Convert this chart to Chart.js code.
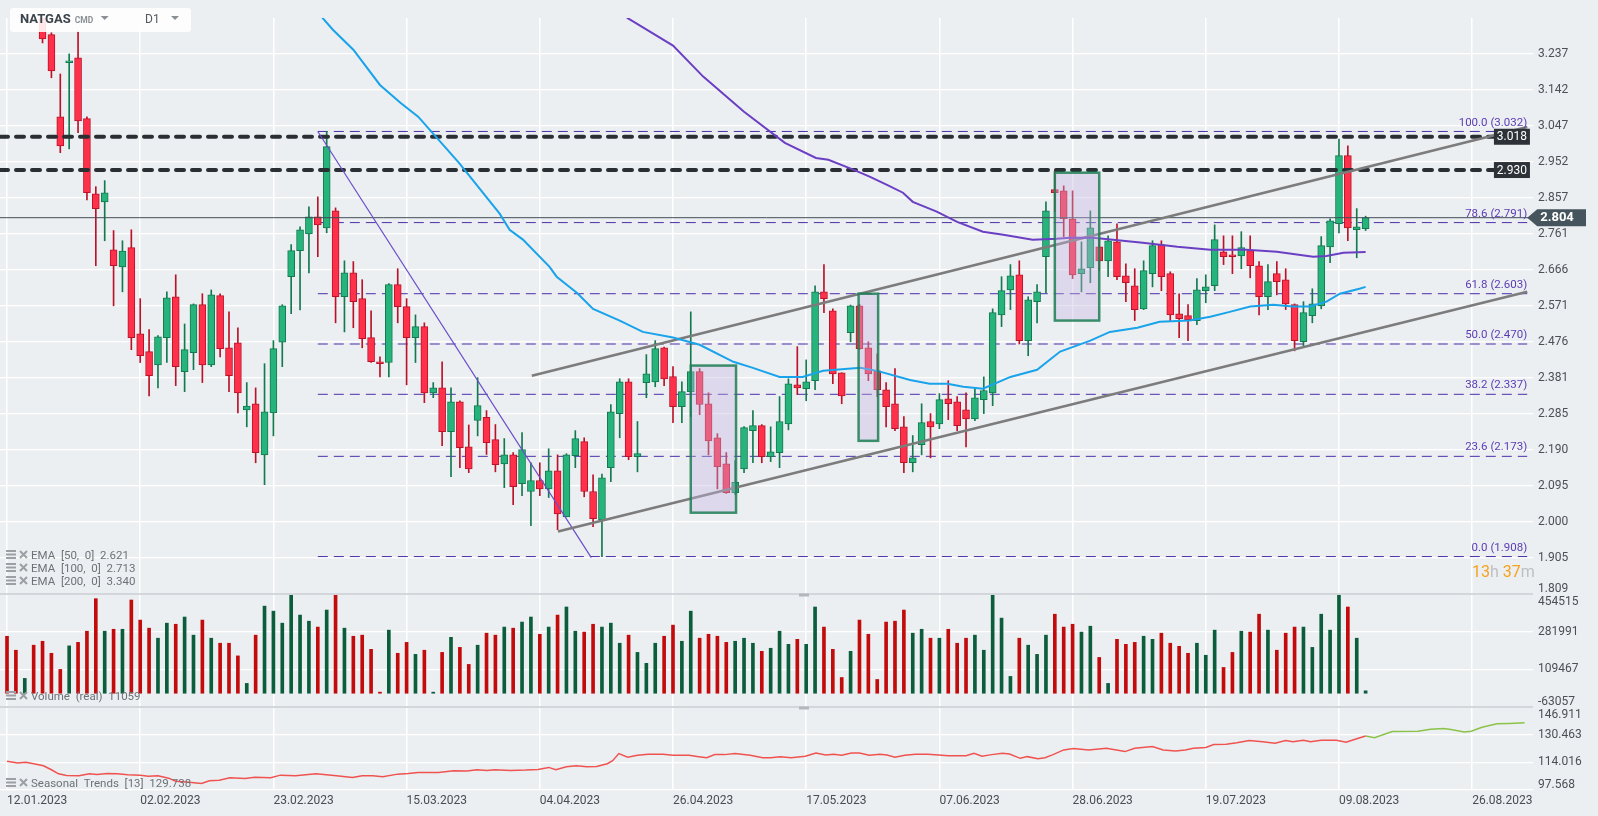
<!DOCTYPE html>
<html>
<head>
<meta charset="utf-8">
<title>NATGAS D1</title>
<script src="https://cdn.jsdelivr.net/npm/chart.js@4.4.0/dist/chart.umd.min.js"></script>
<style>
    html, body { margin: 0; padding: 0; background: #eceff2; }
    canvas { display: block; }
</style>
</head>
<body>
<canvas id="chart" width="1598" height="816"></canvas>
<script>
// daily candles, index 0 = 12.01.2023 (first four sit above the visible range)
const opens = [
    3.62, 3.58, 3.44, 3.50, 3.40, 3.288, 3.071, 3.214, 3.227, 3.066,
    2.867, 2.846, 2.719, 2.674, 2.725, 2.497, 2.450, 2.415, 2.487, 2.595,
    2.397, 2.447, 2.574, 2.415, 2.598, 2.460, 2.473, 2.296, 2.312, 2.177,
    2.288, 2.475, 2.648, 2.717, 2.761, 2.806, 2.777, 2.822, 2.595, 2.658,
    2.590, 2.487, 2.423, 2.421, 2.627, 2.569, 2.487, 2.516, 2.341, 2.354,
    2.238, 2.317, 2.198, 2.268, 2.276, 2.217, 2.153, 2.177, 2.101, 2.080,
    2.109, 2.087, 2.135, 2.013, 2.175, 2.212, 2.080, 2.005, 2.143, 2.286,
    2.370, 2.172, 2.368, 2.370, 2.460, 2.384, 2.304, 2.344, 2.397, 2.312,
    2.222, 2.153, 2.077, 2.140, 2.241, 2.254, 2.172, 2.183, 2.259, 2.362,
    2.352, 2.373, 2.608, 2.558, 2.394, 2.500, 2.571, 2.460, 2.399, 2.349,
    2.312, 2.251, 2.156, 2.204, 2.265, 2.259, 2.325, 2.317, 2.296, 2.272,
    2.323, 2.341, 2.547, 2.613, 2.653, 2.479, 2.582, 2.701, 2.878, 2.875,
    2.801, 2.656, 2.672, 2.727, 2.690, 2.740, 2.650, 2.624, 2.563, 2.656,
    2.732, 2.656, 2.550, 2.545, 2.532, 2.611, 2.624, 2.714, 2.706, 2.703,
    2.717, 2.677, 2.595, 2.656, 2.640, 2.574, 2.476, 2.545, 2.571, 2.727,
    2.788, 2.968, 2.772, 2.775
];
const highs = [
    3.70, 3.62, 3.55, 3.52, 3.43, 3.293, 3.184, 3.237, 3.296, 3.071,
    2.886, 2.902, 2.770, 2.743, 2.772, 2.590, 2.508, 2.492, 2.608, 2.653,
    2.523, 2.576, 2.603, 2.613, 2.603, 2.555, 2.513, 2.368, 2.354, 2.418,
    2.479, 2.574, 2.733, 2.780, 2.833, 2.859, 3.032, 2.830, 2.690, 2.688,
    2.640, 2.558, 2.436, 2.630, 2.669, 2.590, 2.547, 2.526, 2.368, 2.423,
    2.354, 2.320, 2.256, 2.381, 2.294, 2.257, 2.220, 2.183, 2.236, 2.156,
    2.156, 2.193, 2.177, 2.180, 2.241, 2.222, 2.124, 2.126, 2.310, 2.378,
    2.378, 2.265, 2.442, 2.479, 2.462, 2.410, 2.370, 2.555, 2.405, 2.341,
    2.233, 2.183, 2.162, 2.252, 2.294, 2.257, 2.251, 2.331, 2.378, 2.463,
    2.428, 2.624, 2.680, 2.563, 2.394, 2.573, 2.575, 2.476, 2.444, 2.368,
    2.405, 2.278, 2.228, 2.312, 2.286, 2.339, 2.373, 2.331, 2.341, 2.354,
    2.383, 2.563, 2.648, 2.680, 2.690, 2.595, 2.627, 2.846, 2.931, 2.888,
    2.875, 2.740, 2.822, 2.751, 2.756, 2.788, 2.682, 2.669, 2.690, 2.743,
    2.743, 2.661, 2.603, 2.574, 2.643, 2.653, 2.785, 2.756, 2.756, 2.767,
    2.756, 2.688, 2.680, 2.688, 2.669, 2.576, 2.582, 2.616, 2.754, 2.801,
    3.012, 2.994, 2.828, 2.808
];
const lows = [
    3.55, 3.40, 3.42, 3.36, 3.266, 3.174, 2.976, 2.986, 3.029, 2.851,
    2.677, 2.743, 2.571, 2.608, 2.455, 2.421, 2.333, 2.354, 2.421, 2.360,
    2.344, 2.402, 2.368, 2.410, 2.436, 2.344, 2.288, 2.251, 2.156, 2.098,
    2.227, 2.410, 2.550, 2.560, 2.658, 2.701, 2.764, 2.526, 2.502, 2.513,
    2.460, 2.421, 2.383, 2.383, 2.526, 2.362, 2.421, 2.315, 2.328, 2.201,
    2.119, 2.143, 2.130, 2.227, 2.178, 2.132, 2.090, 2.045, 2.069, 1.990,
    2.069, 2.064, 1.979, 2.013, 2.143, 2.066, 1.987, 1.908, 2.106, 2.222,
    2.164, 2.132, 2.328, 2.357, 2.360, 2.262, 2.262, 2.278, 2.283, 2.177,
    2.087, 2.075, 2.072, 2.130, 2.156, 2.156, 2.159, 2.143, 2.243, 2.336,
    2.320, 2.349, 2.553, 2.365, 2.312, 2.476, 2.455, 2.373, 2.331, 2.251,
    2.241, 2.130, 2.132, 2.177, 2.169, 2.246, 2.270, 2.241, 2.198, 2.267,
    2.286, 2.307, 2.516, 2.561, 2.470, 2.439, 2.526, 2.606, 2.820, 2.754,
    2.643, 2.608, 2.632, 2.664, 2.648, 2.640, 2.582, 2.532, 2.561, 2.621,
    2.611, 2.532, 2.487, 2.479, 2.521, 2.579, 2.611, 2.680, 2.656, 2.669,
    2.645, 2.547, 2.561, 2.600, 2.561, 2.452, 2.463, 2.526, 2.563, 2.685,
    2.764, 2.743, 2.698, 2.770
];
const closes = [
    3.58, 3.44, 3.50, 3.38, 3.277, 3.192, 2.994, 3.219, 3.060, 2.870,
    2.828, 2.870, 2.677, 2.716, 2.487, 2.439, 2.386, 2.489, 2.592, 2.410,
    2.455, 2.574, 2.415, 2.600, 2.458, 2.386, 2.341, 2.306, 2.183, 2.291,
    2.458, 2.571, 2.717, 2.772, 2.806, 2.785, 2.992, 2.595, 2.658, 2.582,
    2.484, 2.423, 2.418, 2.627, 2.569, 2.487, 2.516, 2.341, 2.354, 2.238,
    2.317, 2.196, 2.140, 2.307, 2.209, 2.151, 2.177, 2.093, 2.191, 2.109,
    2.087, 2.135, 2.021, 2.177, 2.220, 2.080, 2.008, 2.116, 2.291, 2.370,
    2.172, 2.180, 2.391, 2.458, 2.378, 2.304, 2.344, 2.397, 2.310, 2.214,
    2.146, 2.077, 2.104, 2.249, 2.254, 2.172, 2.185, 2.265, 2.365, 2.354,
    2.370, 2.608, 2.590, 2.391, 2.333, 2.571, 2.458, 2.391, 2.349, 2.304,
    2.246, 2.156, 2.169, 2.262, 2.251, 2.323, 2.312, 2.254, 2.272, 2.328,
    2.347, 2.553, 2.611, 2.650, 2.479, 2.587, 2.608, 2.822, 2.870, 2.801,
    2.653, 2.669, 2.777, 2.690, 2.743, 2.648, 2.632, 2.561, 2.664, 2.730,
    2.648, 2.547, 2.537, 2.534, 2.613, 2.621, 2.746, 2.701, 2.701, 2.725,
    2.677, 2.595, 2.635, 2.635, 2.576, 2.479, 2.553, 2.576, 2.730, 2.796,
    2.968, 2.777, 2.780, 2.804
];
const volumes = [
    261000, 197000, 68000, 220000, 238000, 183000, 109000, 217000, 233000, 284000,
    433000, 284000, 293000, 293000, 427000, 335000, 298000, 252000, 321000, 316000,
    349000, 266000, 335000, 252000, 229000, 229000, 171000, 45000, 266000, 399000,
    376000, 321000, 454515, 358000, 330000, 303000, 381000, 454000, 298000, 261000,
    266000, 201000, 5000, 289000, 183000, 233000, 178000, 197000, 5000, 187000,
    256000, 210000, 132000, 220000, 275000, 266000, 303000, 298000, 326000, 349000,
    270000, 303000, 358000, 395000, 284000, 280000, 316000, 303000, 321000, 229000,
    266000, 187000, 137000, 229000, 261000, 312000, 238000, 376000, 252000, 270000,
    261000, 233000, 238000, 252000, 229000, 192000, 206000, 284000, 224000, 247000,
    224000, 395000, 303000, 201000, 72000, 192000, 335000, 270000, 63000, 326000,
    330000, 381000, 275000, 293000, 252000, 252000, 293000, 229000, 252000, 266000,
    197000, 452000, 344000, 77000, 252000, 220000, 178000, 266000, 362000, 303000,
    316000, 280000, 307000, 164000, 45000, 247000, 224000, 233000, 261000, 247000,
    275000, 229000, 215000, 183000, 229000, 174000, 289000, 118000, 187000, 284000,
    280000, 362000, 289000, 197000, 275000, 303000, 303000, 210000, 362000, 289000,
    454515, 395000, 252000, 11059
];

// [candle index, value]
const ema50 = [
    [35.5, 3.333], [36.7, 3.301], [39.0, 3.248], [42.0, 3.155], [44.3, 3.108], [46.3, 3.071],
    [50.9, 2.949], [55.5, 2.814], [56.6, 2.772], [58.1, 2.746], [61.1, 2.674], [61.9, 2.648],
    [64.2, 2.605], [66.0, 2.563], [69.0, 2.532], [71.6, 2.502], [75.0, 2.487], [78.0, 2.468],
    [81.8, 2.423], [84.0, 2.407], [87.0, 2.383], [89.6, 2.383], [91.9, 2.399], [96.1, 2.407],
    [98.0, 2.399], [101.7, 2.375], [103.9, 2.365], [105.9, 2.365], [107.7, 2.357], [109.9, 2.352],
    [113.0, 2.383], [116.0, 2.402], [118.6, 2.450], [122.0, 2.479], [124.2, 2.502], [127.3, 2.513],
    [129.8, 2.529], [133.2, 2.532], [135.5, 2.542], [137.7, 2.555], [140.0, 2.569], [142.6, 2.574],
    [144.8, 2.569], [146.7, 2.569], [148.6, 2.582], [150.1, 2.603], [152.4, 2.617], [153.0, 2.621]
];
const ema100 = [
    [69.8, 3.333], [75.0, 3.259], [78.4, 3.177], [83.0, 3.084], [87.6, 3.002], [91.1, 2.962],
    [92.5, 2.957], [95.3, 2.931], [97.2, 2.912], [99.1, 2.891], [100.9, 2.870], [102.0, 2.846],
    [104.7, 2.820], [107.0, 2.793], [109.9, 2.767], [112.2, 2.759], [115.5, 2.746], [118.2, 2.748],
    [119.7, 2.751], [122.3, 2.751], [127.9, 2.738], [131.8, 2.727], [135.5, 2.719], [139.6, 2.719],
    [143.0, 2.714], [147.1, 2.701], [148.6, 2.703], [150.5, 2.711], [153.0, 2.713]
];
const seasonalPast = [
    [0, 114.6], [1.2, 113.6], [2.1, 114.0], [3.0, 113.2], [4.1, 112.0], [5.0, 109.6], [5.8, 107.2],
    [6.7, 106.2], [8.1, 106.0], [9.3, 107.2], [10.1, 106.8], [11.3, 107.4], [12.4, 107.2], [13.6, 106.6],
    [15.0, 106.4], [15.9, 105.8], [17.0, 106.0], [18.2, 104.6], [19.0, 102.8], [20.5, 102.2], [21.9, 101.4],
    [22.8, 103.0], [23.9, 103.4], [25.1, 104.8], [26.8, 104.4], [27.9, 105.2], [29.7, 104.8], [30.8, 106.4],
    [32.5, 106.0], [34.8, 107.2], [37.1, 106.0], [38.9, 105.0], [40.0, 106.0], [41.2, 106.0], [42.3, 105.4],
    [44.0, 107.0], [45.2, 107.4], [46.3, 108.0], [48.6, 108.0], [50.3, 109.0], [51.8, 108.8], [52.9, 109.6],
    [54.1, 109.2], [54.9, 109.6], [56.7, 109.2], [58.4, 109.4], [59.8, 109.8], [61.0, 111.0], [61.8, 109.6],
    [63.0, 111.4], [64.1, 112.0], [65.3, 111.4], [66.4, 111.6], [67.6, 113.2], [68.2, 115.0], [68.9, 119.2],
    [69.9, 117.0], [71.0, 118.2], [72.2, 118.8], [73.9, 118.8], [75.0, 118.2], [76.8, 118.2], [77.9, 117.4],
    [78.8, 116.8], [79.7, 118.6], [80.8, 118.6], [82.0, 119.2], [83.7, 118.2], [85.1, 116.8], [86.0, 116.8],
    [87.1, 117.4], [88.3, 116.8], [89.9, 117.6], [91.1, 119.6], [92.2, 118.4], [93.1, 118.8], [94.0, 118.2],
    [95.1, 119.6], [96.0, 119.6], [97.1, 118.2], [98.3, 118.8], [99.1, 118.4], [100.0, 117.0], [101.1, 118.2],
    [102.3, 118.8], [103.7, 118.8], [104.9, 118.4], [106.0, 118.0], [108.0, 118.0], [108.9, 119.4], [109.8, 117.6],
    [110.9, 118.6], [112.1, 119.4], [112.9, 119.0], [114.1, 116.4], [114.9, 117.4], [116.1, 116.2], [116.9, 116.8],
    [117.8, 118.6], [119.0, 121.4], [120.1, 122.2], [121.8, 121.4], [123.8, 122.4], [125.9, 120.4], [127.0, 122.4],
    [129.0, 123.4], [130.2, 121.4], [131.6, 120.8], [132.7, 121.4], [133.6, 122.4], [135.0, 122.8], [135.9, 124.6],
    [137.3, 124.8], [138.5, 125.6], [139.9, 127.0], [141.4, 126.2], [142.8, 125.4], [144.0, 127.0], [144.8, 126.2],
    [146.0, 127.2], [146.8, 126.2], [148.0, 127.2], [149.7, 127.2], [150.8, 126.0], [152.0, 128.0], [153.0, 129.7]
];
const seasonalAhead = [
    [153.0, 129.7], [154.0, 128.7], [156.0, 132.3], [158.9, 132.5], [160.3, 133.7], [161.8, 134.1],
    [162.6, 133.5], [164.1, 132.1], [164.9, 132.5], [166.1, 134.9], [167.8, 136.9], [169.2, 137.1], [170.9, 137.5]
];

const dateTicks = ['12.01.2023', '02.02.2023', '23.02.2023', '15.03.2023', '04.04.2023', '26.04.2023',
    '17.05.2023', '07.06.2023', '28.06.2023', '19.07.2023', '09.08.2023', '26.08.2023'];
const priceTicks = [3.237, 3.142, 3.047, 2.952, 2.857, 2.761, 2.666, 2.571, 2.476, 2.381,
    2.285, 2.190, 2.095, 2.000, 1.905, 1.809];
const volumeTicks = [454515, 281991, 109467, -63057];
const seasonalTicks = [146.911, 130.463, 114.016, 97.568];

const fibLevels = [3.032, 2.791, 2.603, 2.470, 2.337, 2.173, 1.908];
const fibNames = ['100.0', '78.6', '61.8', '50.0', '38.2', '23.6', '0.0'];
const keyLevels = [3.018, 2.930];
const lastPrice = 2.804;
const channelTop = [[59.1, 2.386], [171.2, 3.044]];
const channelBottom = [[62.05, 1.974], [171.2, 2.608]];
const fallLine = [[35.0, 3.032], [65.8, 1.905]];
// [from index, to index, low, high]
const zones = [[77.0, 82.1, 2.024, 2.413], [95.9, 98.1, 2.214, 2.603], [118.0, 123.0, 2.532, 2.923]];
const emaLegend = ['EMA  [50,  0]  2.621', 'EMA  [100,  0]  2.713', 'EMA  [200,  0]  3.340'];

const X_MIN = -0.79, X_MAX = 171.85;
const FIB_START = 35.0, FIB_END = 171.2, KEY_END = 167.45;
const FONT = 'Roboto, "Noto Sans", sans-serif';

const up = opens.map((o, i) => closes[i] >= o);
const pts = arr => arr.map(p => ({ x: p[0], y: p[1] }));
const flat = (v, a, b) => [{ x: a, y: v }, { x: b, y: v }];

function lineSet(data, color, width, extra) {
    return Object.assign({
        type: 'line', data: data, borderColor: color, borderWidth: width,
        pointRadius: 0, tension: 0, fill: false, yAxisID: 'y', order: 0
    }, extra || {});
}

const datasets = [
    lineSet(pts(ema50), '#19a3ea', 2),
    lineSet(pts(ema100), '#6b3fc3', 2),
    lineSet(pts(channelTop), '#7c7c7c', 2.6),
    lineSet(pts(channelBottom), '#7c7c7c', 2.6),
    lineSet(pts(fallLine), '#6a4dc9', 1.2),
    ...keyLevels.map(v => lineSet(flat(v, X_MIN, KEY_END), '#2a2f34', 4,
        { borderDash: [8, 8], borderCapStyle: 'round', order: 1 })),
    lineSet(flat(lastPrice, X_MIN, X_MAX), '#3f4d57', 1, { order: 1 }),
    ...fibLevels.map(v => lineSet(flat(v, FIB_START, FIB_END), '#4a2da8', 1,
        { borderDash: [10, 6], order: 6 })),
    {
        type: 'bar', data: opens.map((o, i) => ({ x: i, y: [Math.min(o, closes[i]), Math.max(o, closes[i])] })),
        backgroundColor: up.map(u => u ? '#26b47c' : '#ff3049'),
        borderColor: up.map(u => u ? '#13794f' : '#ba1229'),
        borderWidth: 1, borderSkipped: false, barThickness: 7, grouped: false, yAxisID: 'y', order: 3
    },
    {
        type: 'bar', data: lows.map((l, i) => ({ x: i, y: [l, highs[i]] })),
        backgroundColor: up.map(u => u ? '#13794f' : '#ba1229'),
        barThickness: 1, grouped: false, yAxisID: 'y', order: 4
    },
    {
        type: 'bar', data: volumes.map((v, i) => ({ x: i, y: v })),
        backgroundColor: up.map(u => u ? '#0b5d3b' : '#c30b0b'),
        barThickness: 3, grouped: false, yAxisID: 'yv', order: 4
    },
    lineSet(pts(seasonalPast), '#ef5350', 1.5, { yAxisID: 'ys' }),
    lineSet(pts(seasonalAhead), '#8bc34a', 1.5, { yAxisID: 'ys' })
];

function paneAxis(min, max, ticks, weight, order) {
    return {
        type: 'linear', position: 'right', stack: 'panes', stackWeight: weight, weight: order,
        min: min, max: max, offset: false,
        grid: { color: '#ffffff', lineWidth: 1.3, drawTicks: false },
        border: { display: false },
        ticks: { display: false },
        afterBuildTicks: s => { s.ticks = ticks.map(v => ({ value: v })); },
        afterFit: s => { s.width = 65; }
    };
}

function drawIcon(ctx, x, y) {
    ctx.fillStyle = '#9ca0a5';
    ctx.fillRect(x, y - 5, 10, 2);
    ctx.fillRect(x, y - 1.5, 10, 2);
    ctx.fillRect(x, y + 2, 10, 2);
    ctx.strokeStyle = '#9ca0a5';
    ctx.lineWidth = 2;
    ctx.beginPath();
    ctx.moveTo(x + 14, y - 4); ctx.lineTo(x + 21, y + 3);
    ctx.moveTo(x + 21, y - 4); ctx.lineTo(x + 14, y + 3);
    ctx.stroke();
}

function triangle(ctx, x, y) {
    ctx.beginPath();
    ctx.moveTo(x, y); ctx.lineTo(x + 8, y); ctx.lineTo(x + 4, y + 4);
    ctx.closePath();
    ctx.fill();
}

const overlay = {
    id: 'overlay',
    beforeDraw(chart) {
        const ctx = chart.ctx;
        ctx.save();
        ctx.fillStyle = '#eceff2';
        ctx.fillRect(0, 0, chart.width, chart.height);
        ctx.restore();
    },
    afterDatasetsDraw(chart) {
        const ctx = chart.ctx, xs = chart.scales.x, ys = chart.scales.y;
        ctx.save();
        zones.forEach(z => {
            const l = xs.getPixelForValue(z[0]), r = xs.getPixelForValue(z[1]);
            const t = ys.getPixelForValue(z[3]), b = ys.getPixelForValue(z[2]);
            ctx.fillStyle = 'rgba(196,180,224,0.38)';
            ctx.fillRect(l, t, r - l, b - t);
            ctx.strokeStyle = 'rgba(28,126,84,0.85)';
            ctx.lineWidth = 2.5;
            ctx.strokeRect(l, t, r - l, b - t);
        });
        ctx.restore();
    },
    afterDraw(chart) {
        const ctx = chart.ctx, area = chart.chartArea;
        const xs = chart.scales.x, ys = chart.scales.y, yv = chart.scales.yv, yse = chart.scales.ys;
        ctx.save();

        // pane separators
        ctx.strokeStyle = '#d3d6da';
        ctx.lineWidth = 2;
        [yv.top, yse.top].forEach(t => {
            ctx.beginPath(); ctx.moveTo(0, t); ctx.lineTo(area.right, t); ctx.stroke();
        });
        ctx.strokeStyle = '#b4b8bc';
        ctx.lineWidth = 3;
        [yv.top, yse.top].forEach(t => {
            ctx.beginPath(); ctx.moveTo(799, t + 1); ctx.lineTo(809, t + 1); ctx.stroke();
        });

        // right axis labels
        ctx.font = '12px ' + FONT;
        ctx.fillStyle = '#4b5056';
        ctx.textAlign = 'left';
        ctx.textBaseline = 'middle';
        const lx = area.right + 5;
        [[ys, priceTicks, v => v.toFixed(3)], [yv, volumeTicks, v => String(v)], [yse, seasonalTicks, v => v.toFixed(3)]]
            .forEach(([s, ticks, fmt]) => {
                ticks.forEach(v => {
                    let py = s.getPixelForValue(v);
                    py = Math.min(Math.max(py, s.top + 8), s.bottom - 5);
                    ctx.fillText(fmt(v), lx, py);
                });
            });

        // fibonacci labels
        ctx.font = '11.5px ' + FONT;
        ctx.fillStyle = '#5b3cb4';
        ctx.textAlign = 'right';
        ctx.textBaseline = 'bottom';
        const fx = xs.getPixelForValue(FIB_END);
        fibLevels.forEach((v, k) => {
            ctx.fillText(fibNames[k] + ' (' + v.toFixed(3) + ')', fx, ys.getPixelForValue(v) - 3);
        });

        // key level tags
        ctx.font = '12px ' + FONT;
        ctx.textAlign = 'center';
        ctx.textBaseline = 'middle';
        const kx = xs.getPixelForValue(KEY_END);
        keyLevels.forEach(v => {
            const py = ys.getPixelForValue(v);
            ctx.fillStyle = '#2c3237';
            ctx.fillRect(kx, py - 8, 36, 16);
            ctx.fillStyle = '#ffffff';
            ctx.fillText(v.toFixed(3), kx + 18, py + 0.5);
        });

        // last price tag
        const py = ys.getPixelForValue(lastPrice);
        const tip = fx;
        ctx.fillStyle = '#46545e';
        ctx.beginPath();
        ctx.moveTo(tip, py);
        ctx.lineTo(tip + 10, py - 8.5);
        ctx.lineTo(1586, py - 8.5);
        ctx.lineTo(1586, py + 8.5);
        ctx.lineTo(tip + 10, py + 8.5);
        ctx.closePath();
        ctx.fill();
        ctx.font = 'bold 13px ' + FONT;
        ctx.fillStyle = '#ffffff';
        ctx.textAlign = 'left';
        ctx.fillText(lastPrice.toFixed(3), tip + 13, py + 0.5);

        // countdown
        ctx.font = '16px ' + FONT;
        ctx.textBaseline = 'middle';
        let cx = 1472;
        [['13', '#f6a11f'], ['h ', '#bdbfc2'], ['37', '#f6a11f'], ['m', '#bdbfc2']].forEach(([t, c]) => {
            ctx.fillStyle = c;
            ctx.fillText(t, cx, 573);
            cx += ctx.measureText(t).width;
        });

        // instrument box
        ctx.fillStyle = 'rgba(255,255,255,0.88)';
        ctx.beginPath();
        ctx.roundRect(10, 8, 181, 24, 3);
        ctx.fill();
        ctx.textBaseline = 'middle';
        ctx.font = 'bold 13px ' + FONT;
        ctx.fillStyle = '#3b434b';
        ctx.fillText('NATGAS', 20, 20);
        const nameEnd = 20 + ctx.measureText('NATGAS').width;
        ctx.font = 'bold 8.5px ' + FONT;
        ctx.fillStyle = '#8a8f94';
        ctx.fillText('CMD', nameEnd + 4, 21);
        triangle(ctx, nameEnd + 30, 16);
        ctx.font = '12px ' + FONT;
        ctx.fillStyle = '#55595e';
        ctx.fillText('D1', 145, 20);
        ctx.fillStyle = '#8a8f94';
        triangle(ctx, 171, 16);

        // indicator captions
        ctx.font = '11.5px ' + FONT;
        const caption = (text, y) => {
            drawIcon(ctx, 6, y - 1);
            ctx.fillStyle = '#6d7277';
            ctx.fillText(text, 31, y);
        };
        emaLegend.forEach((t, k) => caption(t, 556 + k * 13));
        caption('Volume  (real)  11059', 697);
        caption('Seasonal  Trends  [13]  129.738', 784);

        ctx.restore();
    }
};

new Chart(document.getElementById('chart'), {
    type: 'bar',
    data: { datasets: datasets },
    options: {
        responsive: false,
        animation: false,
        devicePixelRatio: 1,
        events: [],
        layout: { padding: { top: 18, left: 0, right: 0, bottom: 0 } },
        plugins: { legend: { display: false }, tooltip: { enabled: false } },
        scales: {
            x: {
                type: 'linear', min: X_MIN, max: X_MAX, offset: false,
                grid: { color: '#ffffff', lineWidth: 1.5, drawTicks: false, offset: false },
                border: { display: false },
                ticks: {
                    align: 'start', maxRotation: 0, autoSkip: false, padding: 4,
                    color: '#474d53', font: { family: FONT, size: 12 },
                    callback: (v, i) => dateTicks[i]
                },
                afterBuildTicks: s => { s.ticks = dateTicks.map((_, k) => ({ value: k * 15 })); },
                afterFit: s => { s.height = 26; }
            },
            y: paneAxis(1.809, 3.332, priceTicks, 576, 1),
            yv: paneAxis(-63057, 454515, volumeTicks, 113, 2),
            ys: paneAxis(97.568, 146.911, seasonalTicks, 83, 3)
        }
    },
    plugins: [overlay]
});
</script>
</body>
</html>
